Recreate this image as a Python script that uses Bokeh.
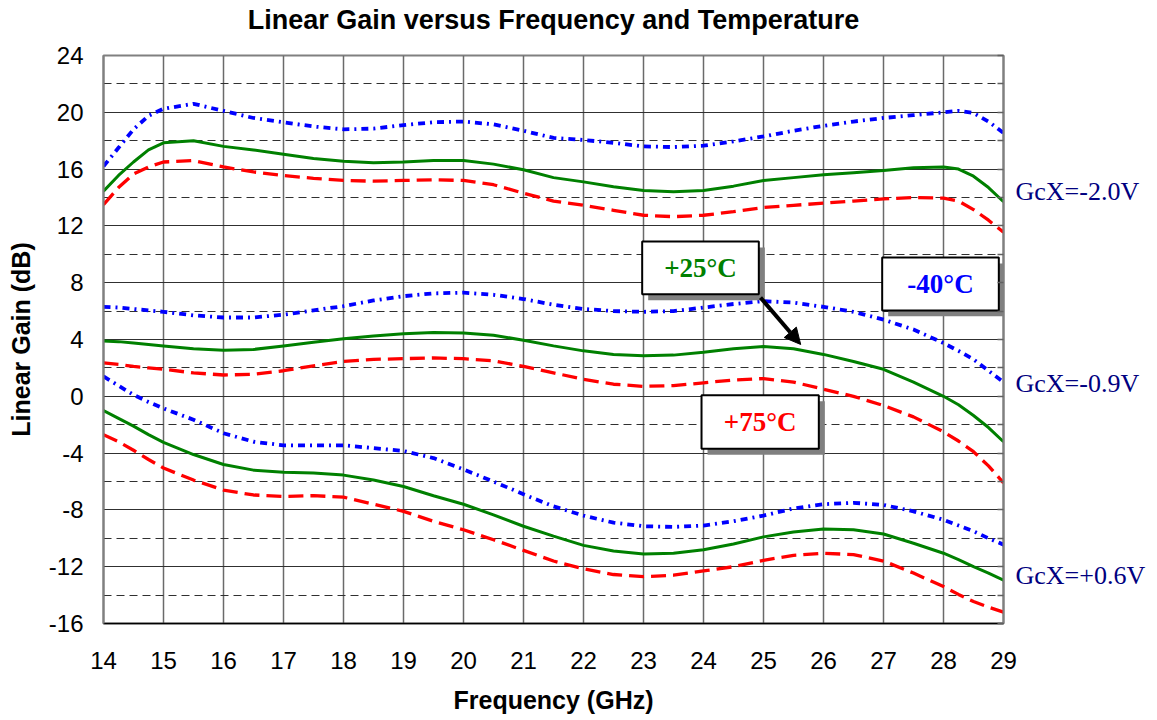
from bokeh.plotting import figure
from bokeh.models import Label, Arrow, NormalHead, FixedTicker, LinearAxis, Range1d, Title
from bokeh.embed import file_html
from bokeh.resources import INLINE

FREQ = [14, 14.25, 14.5, 14.75, 15, 15.5, 16, 16.5, 17, 17.5, 18, 18.5, 19, 19.5,
        20, 20.5, 21, 21.5, 22, 22.5, 23, 23.5, 24, 24.5, 25, 25.5, 26, 26.5, 27,
        27.5, 28, 28.25, 28.5, 28.75, 29]

# GcX = -2.0 V
M40_A = [16.2, 17.5, 18.8, 19.75, 20.25, 20.6, 20.1, 19.6, 19.3, 19.0, 18.8, 18.85, 19.1, 19.3,
         19.35, 19.15, 18.7, 18.2, 18.05, 17.85, 17.6, 17.55, 17.65, 17.95, 18.3, 18.7, 19.05, 19.35, 19.6,
         19.8, 20.0, 20.1, 19.95, 19.35, 18.55]
P25_A = [14.45, 15.55, 16.5, 17.35, 17.85, 18.0, 17.6, 17.35, 17.05, 16.75, 16.55, 16.45, 16.5, 16.6,
         16.6, 16.35, 15.95, 15.4, 15.1, 14.75, 14.5, 14.4, 14.5, 14.8, 15.2, 15.4, 15.6, 15.75, 15.9,
         16.1, 16.15, 16.0, 15.5, 14.7, 13.7]
P75_A = [13.5, 14.7, 15.65, 16.15, 16.5, 16.6, 16.15, 15.8, 15.55, 15.35, 15.2, 15.15, 15.2, 15.25,
         15.2, 14.9, 14.3, 13.75, 13.45, 13.1, 12.75, 12.65, 12.75, 13.0, 13.3, 13.45, 13.6, 13.75, 13.9,
         14.0, 13.95, 13.75, 13.15, 12.4, 11.55]

# GcX = -0.9 V
M40_B = [6.3, 6.25, 6.15, 6.05, 5.95, 5.7, 5.55, 5.55, 5.75, 6.05, 6.35, 6.75, 7.05, 7.25,
         7.3, 7.15, 6.85, 6.45, 6.15, 6.0, 5.95, 6.0, 6.25, 6.5, 6.7, 6.6, 6.3, 5.95, 5.4,
         4.7, 3.75, 3.2, 2.6, 1.8, 1.0]
P25_B = [3.9, 3.85, 3.75, 3.65, 3.55, 3.35, 3.25, 3.3, 3.55, 3.8, 4.05, 4.25, 4.4, 4.5,
         4.45, 4.3, 3.95, 3.55, 3.2, 2.95, 2.85, 2.9, 3.1, 3.35, 3.5, 3.35, 2.95, 2.45, 1.9,
         1.0, 0.0, -0.6, -1.35, -2.2, -3.2]
P75_B = [2.35, 2.25, 2.1, 2.0, 1.9, 1.65, 1.5, 1.55, 1.8, 2.15, 2.45, 2.6, 2.65, 2.7,
         2.65, 2.5, 2.1, 1.65, 1.2, 0.85, 0.7, 0.75, 0.95, 1.15, 1.25, 1.0, 0.5, 0.0, -0.65,
         -1.45, -2.5, -3.15, -3.9, -4.9, -6.1]

# GcX = +0.6 V
M40_C = [1.4, 0.75, 0.1, -0.4, -0.85, -1.65, -2.6, -3.2, -3.45, -3.45, -3.45, -3.65, -3.85, -4.35,
         -5.15, -6.0, -6.9, -7.75, -8.4, -8.9, -9.15, -9.2, -9.1, -8.8, -8.4, -7.9, -7.6, -7.5, -7.65,
         -8.1, -8.7, -9.1, -9.5, -10.0, -10.45]
P25_C = [-1.0, -1.55, -2.1, -2.7, -3.25, -4.1, -4.8, -5.2, -5.35, -5.4, -5.55, -5.9, -6.35, -7.0,
         -7.6, -8.35, -9.15, -9.85, -10.5, -10.9, -11.1, -11.05, -10.8, -10.4, -9.9, -9.55, -9.35, -9.4, -9.7,
         -10.35, -11.05, -11.5, -12.0, -12.45, -12.95]
P75_C = [-2.7, -3.2, -3.8, -4.45, -5.05, -5.9, -6.6, -6.95, -7.05, -7.0, -7.1, -7.6, -8.1, -8.8,
         -9.4, -10.1, -10.85, -11.6, -12.15, -12.55, -12.7, -12.6, -12.3, -12.0, -11.55, -11.2, -11.05, -11.15, -11.6,
         -12.45, -13.4, -13.95, -14.45, -14.85, -15.2]

X_TICKS = list(range(14, 30))
Y_TICKS = list(range(-16, 25, 4))
Y_TICK_LABELS = ["-16", "-12", "-8", "-4", "0", "4", "8", "12", "16", "20", "24"]
Y_MINOR = list(range(-14, 24, 4))
Y_SMALL = list(range(-16, 25, 2))
GCX_LABELS = ["GcX=-2.0V", "GcX=-0.9V", "GcX=+0.6V"]
GCX_Y = [14.4, 0.9, -12.6]
TEMP_LABELS = ["+25°C", "-40°C", "+75°C"]
TITLE = "Linear Gain versus Frequency and Temperature"

BLUE = "#0000FF"
GREEN = "#008000"
RED = "#FF0000"
SANS = "Liberation Sans"
SERIF = "Liberation Serif"

p = figure(width=1150, height=716, x_range=Range1d(14, 29), y_range=Range1d(-16, 24),
           output_backend="svg", toolbar_location=None, title=None,
           min_border_left=103, min_border_right=147, min_border_top=55, min_border_bottom=93)
p.background_fill_color = "white"
p.border_fill_color = "white"
p.outline_line_color = "#808080"
p.outline_line_width = 2

# spacer between frame and title, then the title itself
p.add_layout(Title(text=" ", text_font_size="17px", standoff=0), "above")
p.add_layout(Title(text=TITLE, align="center", text_font=SANS, text_font_size="27px",
                   text_font_style="bold", text_color="black", standoff=0), "above")

p.xaxis.ticker = FixedTicker(ticks=X_TICKS)
p.yaxis.ticker = FixedTicker(ticks=Y_TICKS, minor_ticks=Y_MINOR)
p.yaxis.major_label_overrides = {v: t for v, t in zip(Y_TICKS, Y_TICK_LABELS)}
for ax in (p.xaxis, p.yaxis):
    ax.major_tick_out = 0
    ax.major_tick_in = 0
    ax.minor_tick_out = 0
    ax.minor_tick_in = 0
    ax.major_label_text_font = SANS
    ax.major_label_text_font_size = "24px"
    ax.major_label_text_color = "black"
    ax.axis_label_text_font = SANS
    ax.axis_label_text_font_size = "25px"
    ax.axis_label_text_font_style = "bold"
    ax.axis_label_text_color = "black"
p.xaxis.axis_label = "Frequency (GHz)"
p.yaxis.axis_label = "Linear Gain (dB)"
p.xaxis.axis_line_color = "black"
p.xaxis.axis_line_width = 1.5
p.yaxis.axis_line_color = "#808080"
p.yaxis.axis_line_width = 2
p.xaxis.major_label_standoff = 28
p.xaxis.axis_label_standoff = 14
p.yaxis.major_label_standoff = 20
p.yaxis.axis_label_standoff = 11

# right-hand axis: small inward ticks every 2 dB and the GcX labels
ra = LinearAxis(ticker=FixedTicker(ticks=GCX_Y, minor_ticks=Y_SMALL))
ra.major_tick_in = 0
ra.major_tick_out = 0
ra.minor_tick_in = 6
ra.minor_tick_out = 0
ra.minor_tick_line_color = "#606060"
ra.minor_tick_line_width = 1.5
ra.major_label_overrides = {v: t for v, t in zip(GCX_Y, GCX_LABELS)}
ra.major_label_text_font = SERIF
ra.major_label_text_font_size = "26px"
ra.major_label_text_color = "#000080"
ra.major_label_standoff = 12
ra.axis_line_color = "#808080"
ra.axis_line_width = 2
p.add_layout(ra, "right")

p.xgrid.grid_line_color = "#6a6a6a"
p.xgrid.grid_line_width = 1.5
p.ygrid.grid_line_color = "#303030"
p.ygrid.grid_line_width = 1.2
p.ygrid.minor_grid_line_color = "#303030"
p.ygrid.minor_grid_line_width = 1
p.ygrid.minor_grid_line_dash = "8 5"

series = [
    (M40_A, BLUE, "7 5 2 5", 3.8), (P25_A, GREEN, "solid", 3), (P75_A, RED, "15 7", 3.3),
    (M40_B, BLUE, "7 5 2 5", 3.8), (P25_B, GREEN, "solid", 3), (P75_B, RED, "15 7", 3.3),
    (M40_C, BLUE, "7 5 2 5", 3.8), (P25_C, GREEN, "solid", 3), (P75_C, RED, "15 7", 3.3),
]
for vals, col, dash, lw in series:
    p.line(FREQ, vals, line_color=col, line_width=lw, line_dash=dash)

# Temperature boxes (left, right, top, bottom in data coords) with drop shadows
boxes = [(22.978, 24.922, 10.9, 7.18, GREEN),
         (26.978, 28.922, 9.77, 6.05, BLUE),
         (23.967, 25.922, 0.07, -3.69, RED)]
dx, dy = 0.1, 0.42
p.quad(left=[b[0] + dx for b in boxes], right=[b[1] + dx for b in boxes],
       top=[b[2] - dy for b in boxes], bottom=[b[3] - dy for b in boxes],
       fill_color="#808080", line_color=None)
p.quad(left=[b[0] for b in boxes], right=[b[1] for b in boxes],
       top=[b[2] for b in boxes], bottom=[b[3] for b in boxes],
       fill_color="white", line_color="black", line_width=2)
for (l, r, t, b, col), txt in zip(boxes, TEMP_LABELS):
    p.add_layout(Label(x=(l + r) / 2, y=(t + b) / 2, text=txt, text_align="center",
                       text_baseline="middle", text_font=SERIF, text_font_style="bold",
                       text_font_size="27px", text_color=col))

p.add_layout(Arrow(end=NormalHead(size=16, fill_color="black", line_color="black"),
                   x_start=24.95, y_start=6.95, x_end=25.62, y_end=3.65,
                   line_width=4, line_color="black"))

open("out.html", "w").write(file_html(p, INLINE))
